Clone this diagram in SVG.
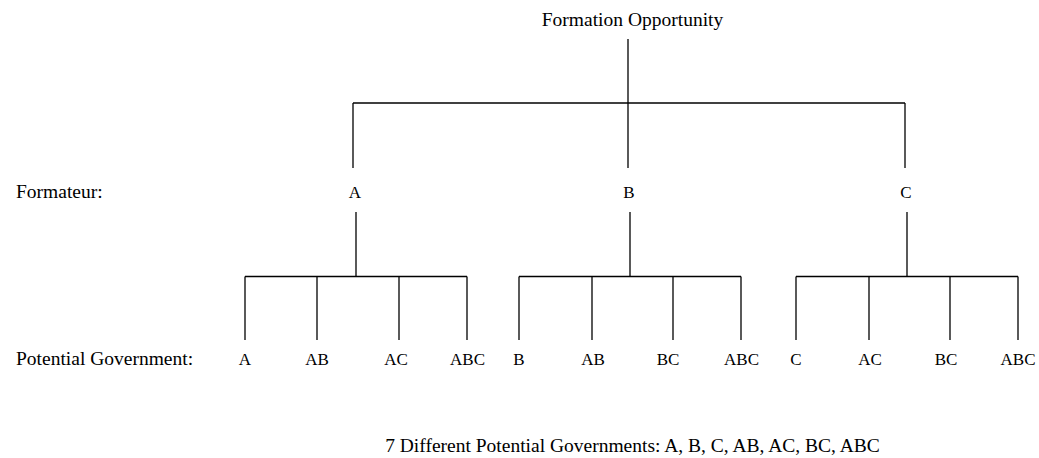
<svg xmlns="http://www.w3.org/2000/svg" width="1039" height="458" viewBox="0 0 1039 458">
<style>
text{font-family:"Liberation Serif","Times New Roman",serif;fill:#000}
.t{font-size:19.5px}
.l{font-size:17px;text-anchor:middle}
.c{text-anchor:middle}
line{stroke:#000;stroke-width:1.3}
</style>
<rect width="1039" height="458" fill="#fff"/>
<g id="connectors">
<line x1="628" y1="39" x2="628" y2="103"/>
<line x1="353" y1="103" x2="905" y2="103"/>
<line x1="353" y1="103" x2="353" y2="168"/>
<line x1="628" y1="103" x2="628" y2="168"/>
<line x1="905" y1="103" x2="905" y2="168"/>
<line x1="356" y1="212" x2="356" y2="276.5"/>
<line x1="630" y1="212" x2="630" y2="276.5"/>
<line x1="907" y1="212" x2="907" y2="276.5"/>
<line x1="245" y1="276.5" x2="467" y2="276.5"/>
<line x1="519" y1="276.5" x2="741" y2="276.5"/>
<line x1="796" y1="276.5" x2="1018" y2="276.5"/>
<line x1="245" y1="276.5" x2="245" y2="340"/>
<line x1="317" y1="276.5" x2="317" y2="340"/>
<line x1="399" y1="276.5" x2="399" y2="340"/>
<line x1="467" y1="276.5" x2="467" y2="340"/>
<line x1="519" y1="276.5" x2="519" y2="340"/>
<line x1="592" y1="276.5" x2="592" y2="340"/>
<line x1="673" y1="276.5" x2="673" y2="340"/>
<line x1="741" y1="276.5" x2="741" y2="340"/>
<line x1="796" y1="276.5" x2="796" y2="340"/>
<line x1="869" y1="276.5" x2="869" y2="340"/>
<line x1="950" y1="276.5" x2="950" y2="340"/>
<line x1="1018" y1="276.5" x2="1018" y2="340"/>
</g>
<g id="root"><text class="t c" x="632.5" y="26">Formation Opportunity</text></g>
<g id="label-formateur"><text class="t" x="16" y="198">Formateur:</text></g>
<g id="fA"><text class="l" x="355" y="198">A</text></g>
<g id="fB"><text class="l" x="629" y="198">B</text></g>
<g id="fC"><text class="l" x="906" y="198">C</text></g>
<g id="label-gov"><text class="t" x="16" y="365">Potential Government:</text></g>
<g id="gA1"><text class="l" x="245" y="365">A</text></g>
<g id="gA2"><text class="l" x="317" y="365">AB</text></g>
<g id="gA3"><text class="l" x="396" y="365">AC</text></g>
<g id="gA4"><text class="l" x="467.5" y="365">ABC</text></g>
<g id="gB1"><text class="l" x="519" y="365">B</text></g>
<g id="gB2"><text class="l" x="593" y="365">AB</text></g>
<g id="gB3"><text class="l" x="668" y="365">BC</text></g>
<g id="gB4"><text class="l" x="741.5" y="365">ABC</text></g>
<g id="gC1"><text class="l" x="796" y="365">C</text></g>
<g id="gC2"><text class="l" x="870" y="365">AC</text></g>
<g id="gC3"><text class="l" x="946" y="365">BC</text></g>
<g id="gC4"><text class="l" x="1018" y="365">ABC</text></g>
<g id="summary"><text class="t c" x="632.5" y="452">7 Different Potential Governments: A, B, C, AB, AC, BC, ABC</text></g>
</svg>
